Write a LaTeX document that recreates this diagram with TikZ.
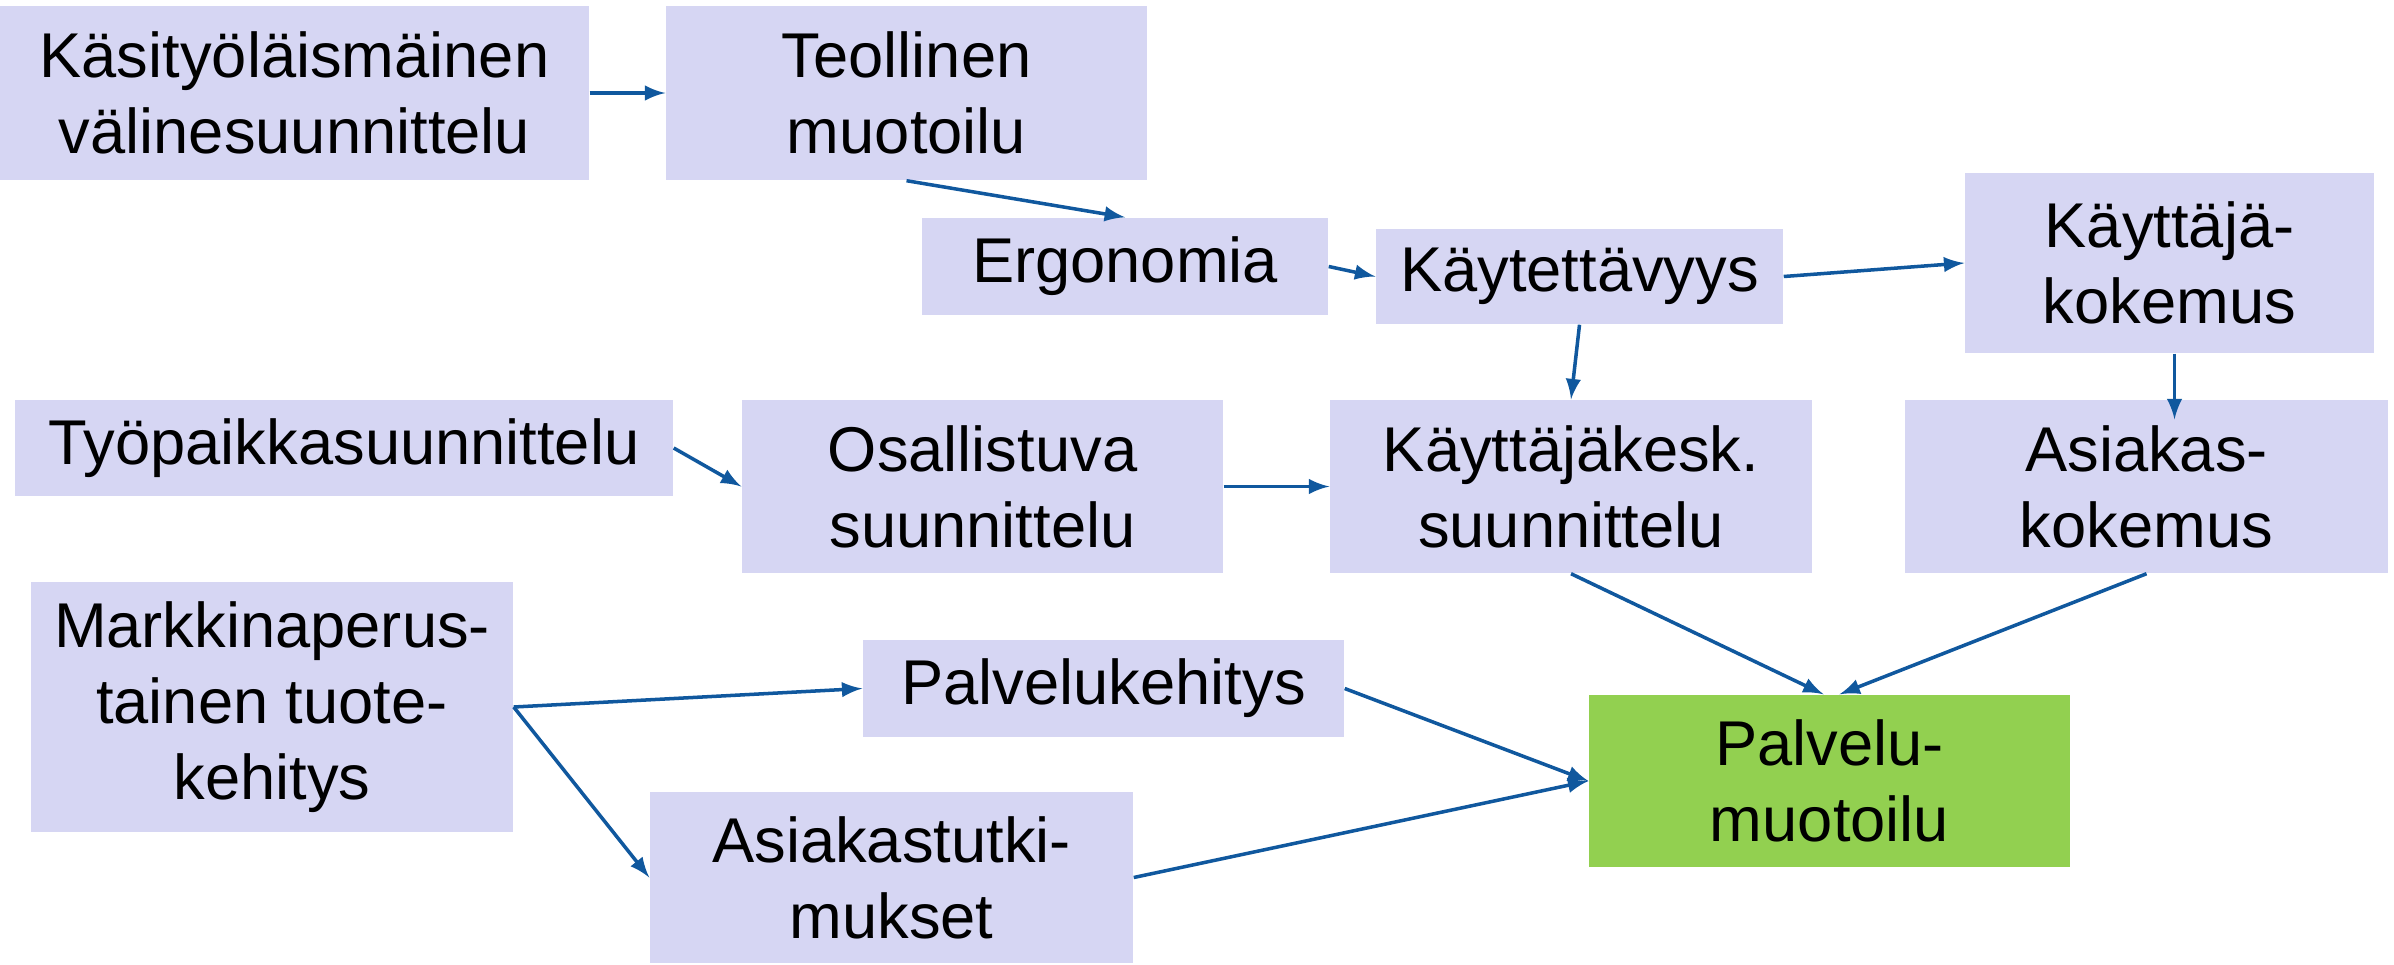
\documentclass[tikz,border=0pt]{standalone}
\usepackage{fontspec}
\setmainfont{Liberation Sans}
\usetikzlibrary{shapes,arrows,positioning}

\definecolor{boxblue}{RGB}{214,214,243}
\definecolor{boxgreen}{RGB}{146,208,80}
\definecolor{linkblue}{RGB}{16,88,158}

\tikzset{
  box/.style={fill=boxblue, inner sep=0pt, align=center,
    font=\fontsize{18}{21.6}\selectfont},
  link/.style={-latex, draw=linkblue, line width=1pt}
}

\begin{document}
\begin{tikzpicture}
            \useasboundingbox (0,0) rectangle (23.94,-9.64);

            % Boxes
            \node[box, minimum width=5.89cm, minimum height=1.74cm] (kasity) at (2.945,-0.93) {Käsityöläismäinen\\välinesuunnittelu};
            \node[box, minimum width=4.81cm, minimum height=1.74cm] (teoll) at (9.065,-0.93) {Teollinen\\muotoilu};
            \node[box, minimum width=4.06cm, minimum height=0.97cm] (ergo) at (11.25,-2.665) {Ergonomia};
            \node[box, minimum width=4.07cm, minimum height=0.95cm] (kaytet) at (15.795,-2.765) {Käytettävyys};
            \node[box, minimum width=4.09cm, minimum height=1.80cm] (kkok) at (21.695,-2.63) {Käyttäjä-\\kokemus};
            \node[box, minimum width=6.58cm, minimum height=0.96cm] (tyop) at (3.44,-4.48) {Työpaikkasuunnittelu};
            \node[box, minimum width=4.81cm, minimum height=1.73cm] (osall) at (9.825,-4.865) {Osallistuva\\suunnittelu};
            \node[box, minimum width=4.82cm, minimum height=1.73cm] (kkesk) at (15.71,-4.865) {Käyttäjäkesk.\\suunnittelu};
            \node[box, minimum width=4.83cm, minimum height=1.73cm] (akok) at (21.465,-4.865) {Asiakas-\\kokemus};
            \node[box, minimum width=4.82cm, minimum height=2.50cm] (markk) at (2.72,-7.07) {Markkinaperus-\\tainen tuote-\\kehitys};
            \node[box, minimum width=4.81cm, minimum height=0.97cm] (palvk) at (11.035,-6.885) {Palvelukehitys};
            \node[box, minimum width=4.83cm, minimum height=1.71cm] (atutk) at (8.915,-8.775) {Asiakastutki-\\mukset};
            \node[box, fill=boxgreen, minimum width=4.81cm, minimum height=1.72cm] (palvm) at (18.295,-7.81) {Palvelu-\\muotoilu};

            % Arrows
            \draw[link] (kasity) -- (teoll);
            \draw[link] (teoll.south) -- (ergo.north);
            \draw[link] (ergo.east) -- (kaytet.west);
            \draw[link] (kaytet.east) -- (kkok.west);
            \draw[link] (kaytet.south) -- (kkesk.north);
            \draw[link, shorten >=-0.2cm] ([xshift=0.05cm]kkok.south) -- ([xshift=0.05cm]kkok.south |- akok.north);
            \draw[link] (tyop.east) -- (osall.west);
            \draw[link] (osall) -- (kkesk);
            \draw[link] (kkesk.south) -- ([xshift=-0.06cm]palvm.north);
            \draw[link] (akok.south) -- ([xshift=0.1cm]palvm.north);
            \draw[link] (markk.east) -- (palvk.west);
            \draw[link] (markk.east) -- (atutk.west);
            \draw[link] (palvk.east) -- (palvm.west);
            \draw[link] (atutk.east) -- (palvm.west);
        \end{tikzpicture}
\end{document}
